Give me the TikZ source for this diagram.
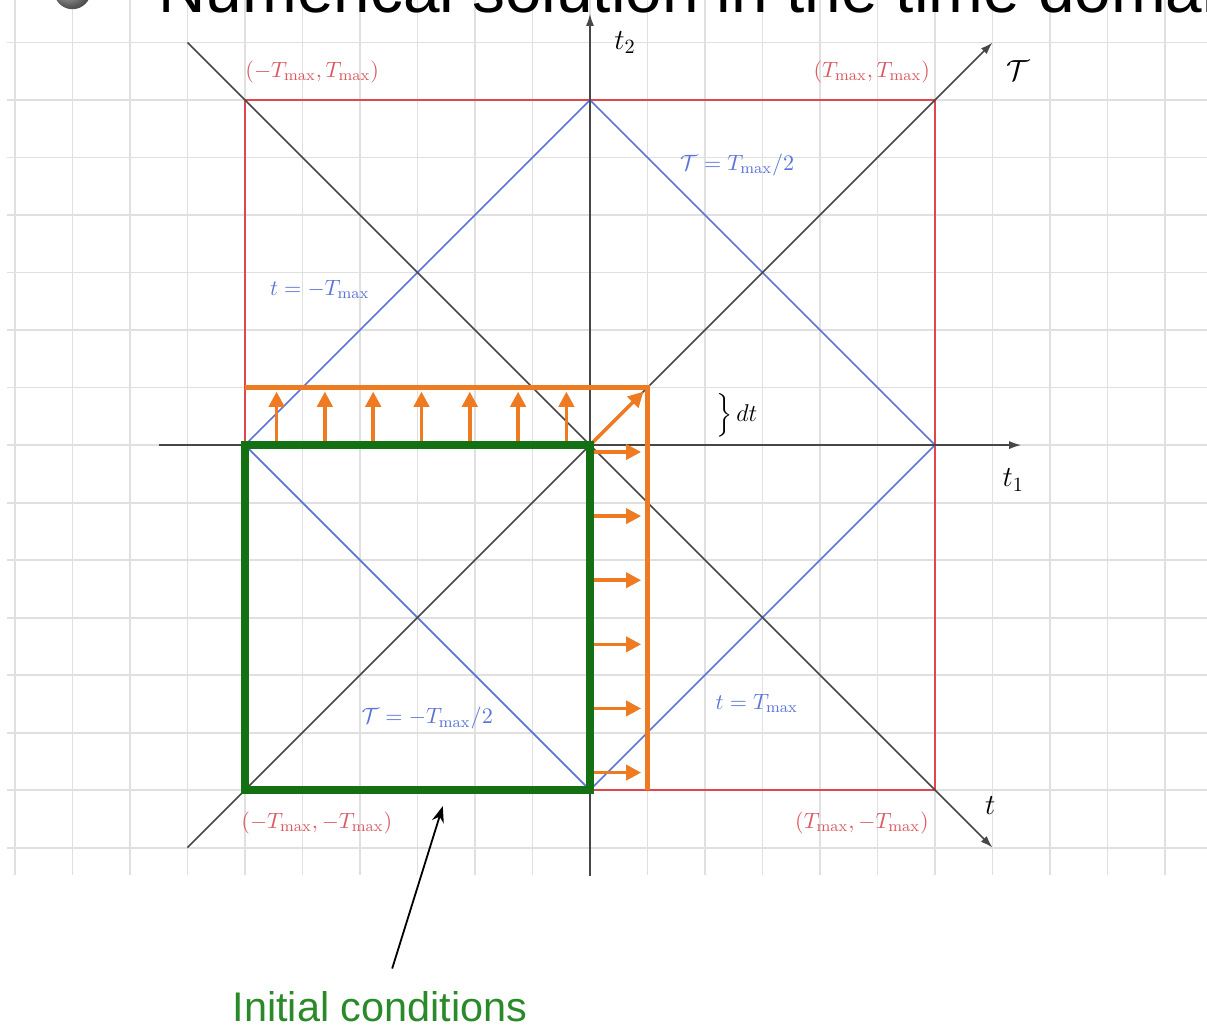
\documentclass[tikz,border=0pt]{standalone}
\usepackage{amsmath,amssymb}
\usepackage{fontspec}
\setsansfont{Liberation Sans}
\usepackage{tikz}
\usetikzlibrary{arrows.meta,positioning,calc}
\definecolor{boxRed}{HTML}{E0474C}
\definecolor{lblRed}{HTML}{DB5A62}
\definecolor{diagBlue}{HTML}{5B74D9}
\definecolor{dtOrange}{HTML}{EE7A22}
\definecolor{icGreen}{HTML}{137013}
\definecolor{icText}{HTML}{2A8A2A}
\definecolor{gridGray}{HTML}{E0E0E0}

\begin{document}
\begin{tikzpicture}[font=\fontsize{11}{13}\selectfont,
  gridline/.style={gridGray,line width=0.9pt},
  axis/.style={black!72,line width=0.8pt,-{Latex[length=6pt,width=4pt]}},
  dtarrow/.style={dtOrange,line width=1.8pt,-{Triangle[length=7.5pt,width=7.5pt]}},
  redlbl/.style={lblRed},
  bluelbl/.style={diagBlue}]
  \useasboundingbox (-10.26,-10.12) rectangle (10.73,7.74);
  \clip (-10.26,-10.12) rectangle (10.73,7.74);

  % background grid
  \foreach \gx in {-10,...,10}
    \draw[gridline] (\gx,-7.48) -- (\gx,7.8);
  \foreach \gy in {-7,...,7}
    \draw[gridline] (-10.14,\gy) -- (10.8,\gy);

  % slide title, cut at the top
  \shade[ball color=gray!55] (-9.0,7.9) circle (0.32);
  \node[anchor=base west,inner sep=0pt,font=\sffamily\fontsize{32.5}{38}\selectfont]
    (title) at (-7.51,7.53) {Numerical solution in the time domain};

  % corners of the domain
  \coordinate (O) at (0,0);
  \coordinate (NW) at (-6,6);
  \coordinate (NE) at (6,6);
  \coordinate (SW) at (-6,-6);
  \coordinate (SE) at (6,-6);

  \draw[boxRed,line width=0.8pt] (SW) rectangle (NE);
  \draw[diagBlue,line width=0.8pt] (-6,0) -- (0,6) -- (6,0) -- (0,-6) -- cycle;

  % axes
  \coordinate (t1s) at (-7.5,0);  \coordinate (t1e) at (7.5,0);
  \coordinate (t2s) at (0,-7.5);  \coordinate (t2e) at (0,7.5);
  \coordinate (Ts) at (-7,-7);    \coordinate (Te) at (7,7);
  \coordinate (ts) at (-7,7);     \coordinate (te) at (7,-7);
  \draw[axis] (t1s) -- (t1e);
  \draw[axis] (t2s) -- (t2e);
  \draw[axis] (Ts) -- (Te);
  \draw[axis] (ts) -- (te);

  \node (t1lbl) at (7.36,-0.61) {\Large$t_1$};
  \node (t2lbl) at (0.61,7.0) {\Large$t_2$};
  \node (Tlbl) at (7.44,6.52) {\Large$\mathcal{T}$};
  \node (tlbl) at (6.96,-6.26) {\Large$t$};

  % orange strip of width dt
  \draw[dtOrange,line width=2.6pt] (-6,1) -- (1,1) -- (1,-6);
  \foreach \k in {0,...,6}
    \draw[dtarrow] ({-5.45+0.84*\k},0.05) -- ++(0,0.88);
  \foreach \k in {0,...,5}
    \draw[dtarrow] (0.05,{-0.12-1.115*\k}) -- ++(0.84,0);
  \draw[dtarrow] (O) -- (0.93,0.93);

  % initial conditions
  \draw[icGreen,line width=4.2pt,line join=miter] (SW) rectangle (O);

  % labels
  \node[redlbl] (lNW) at (-4.83,6.49) {$(-T_{\max},T_{\max})$};
  \node[redlbl] (lNE) at (4.9,6.49) {$(T_{\max},T_{\max})$};
  \node[redlbl] (lSW) at (-4.75,-6.57) {$(-T_{\max},-T_{\max})$};
  \node[redlbl] (lSE) at (4.73,-6.57) {$(T_{\max},-T_{\max})$};
  \node[bluelbl] (lA) at (2.56,4.87) {$\mathcal{T}=T_{\max}/2$};
  \node[bluelbl] (lB) at (-4.7,2.7) {$t=-T_{\max}$};
  \node[bluelbl] (lC) at (-2.83,-4.75) {$\mathcal{T}=-T_{\max}/2$};
  \node[bluelbl] (lD) at (2.9,-4.49) {$t=T_{\max}$};
  \node (dtlbl) at (2.55,0.52) {\large$\Big\}\,dt$};

  \node[icText,inner sep=1pt,font=\sffamily\fontsize{20.5}{24}\selectfont] (ic) at (-3.65,-9.76)
    {Initial conditions};
  \coordinate (icTip) at (-2.56,-6.28);
  \draw[black,line width=0.9pt,-{Stealth[length=8pt,width=6pt]}]
    ([xshift=0.21cm,yshift=0.35cm]ic.north) -- (icTip);
\end{tikzpicture}
\end{document}
